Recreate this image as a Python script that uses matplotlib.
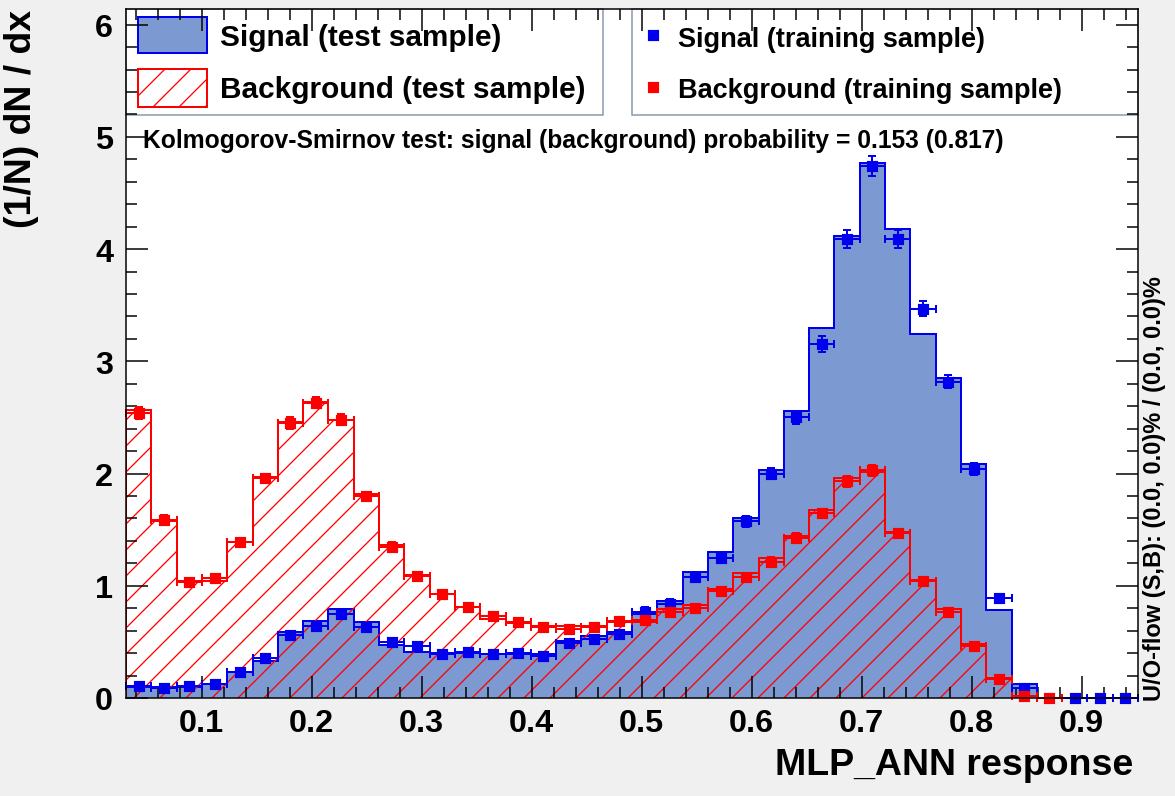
import matplotlib
matplotlib.use('Agg')
import matplotlib.pyplot as plt
import numpy as np
from matplotlib.patches import Rectangle
from matplotlib.lines import Line2D
from matplotlib.ticker import MultipleLocator

DPI = 156          # hatch spacing in matplotlib scales with dpi
W, H = 1175, 797


def pt(px):
    # pixel size -> points at this dpi
    return px * 72.0 / DPI


def fx(px):
    return px / W


def fy(py):
    return 1 - py / H


x_min, x_max = 0.0312, 0.9512
n_bins = 40

# signal, test sample (filled histogram)
sig_test = [0.095, 0.095, 0.10, 0.125, 0.23, 0.33, 0.585, 0.69, 0.79, 0.675,
            0.47, 0.41, 0.40, 0.40, 0.39, 0.39, 0.39, 0.51, 0.555, 0.585,
            0.75, 0.86, 1.12, 1.30, 1.60, 2.03, 2.555, 3.30, 4.12, 4.77,
            4.18, 3.24, 2.85, 2.085, 0.78, 0.125, 0.0, 0.0, 0.0, 0.0]
# signal, training sample (points)
sig_train = [0.11, 0.09, 0.11, 0.125, 0.235, 0.36, 0.56, 0.645, 0.75, 0.63,
             0.50, 0.46, 0.39, 0.41, 0.39, 0.40, 0.37, 0.49, 0.525, 0.57,
             0.77, 0.84, 1.08, 1.25, 1.575, 2.00, 2.50, 3.155, 4.09, 4.74,
             4.09, 3.47, 2.82, 2.04, 0.89, 0.086, np.nan, 0.0, 0.0, 0.0]
sig_train_err = [0.02, 0.02, 0.02, 0.02, 0.03, 0.03, 0.03, 0.03, 0.04, 0.03,
                 0.03, 0.03, 0.03, 0.03, 0.03, 0.03, 0.03, 0.03, 0.03, 0.03,
                 0.04, 0.04, 0.04, 0.04, 0.05, 0.05, 0.06, 0.07, 0.08, 0.09,
                 0.08, 0.07, 0.06, 0.05, 0.03, 0.01, 0.0, 0.0, 0.0, 0.0]

# background, test sample (hatched histogram)
bkg_test = [2.57, 1.58, 1.04, 1.04, 1.39, 1.97, 2.46, 2.64, 2.48, 1.82,
            1.36, 1.10, 0.93, 0.81, 0.70, 0.67, 0.64, 0.64, 0.64, 0.675,
            0.675, 0.79, 0.83, 0.97, 1.11, 1.245, 1.445, 1.675, 1.96, 2.01,
            1.48, 1.05, 0.79, 0.48, 0.18, 0.02, 0.0, 0.0, 0.0, 0.0]
# background, training sample (points)
bkg_train = [2.54, 1.59, 1.03, 1.07, 1.39, 1.96, 2.45, 2.63, 2.48, 1.80,
             1.35, 1.09, 0.93, 0.81, 0.73, 0.68, 0.63, 0.615, 0.63, 0.69,
             0.695, 0.77, 0.80, 0.95, 1.075, 1.215, 1.43, 1.645, 1.93, 2.03,
             1.47, 1.04, 0.765, 0.465, 0.165, 0.02, 0.0, np.nan, np.nan, np.nan]
bkg_train_err = [0.05, 0.04, 0.03, 0.03, 0.04, 0.04, 0.05, 0.05, 0.05, 0.04,
                 0.04, 0.03, 0.03, 0.03, 0.03, 0.03, 0.03, 0.03, 0.03, 0.03,
                 0.03, 0.03, 0.03, 0.03, 0.03, 0.04, 0.04, 0.04, 0.05, 0.05,
                 0.04, 0.03, 0.03, 0.03, 0.02, 0.01, 0.0, 0.0, 0.0, 0.0]

edges = np.linspace(x_min, x_max, n_bins + 1)
centers = 0.5 * (edges[:-1] + edges[1:])
half = 0.5 * (edges[1] - edges[0])

sig_fill = '#7d99d1'
sig_line = '#0000ee'
bkg_line = '#ff0000'
box_edge = '#8a98ad'

plt.rcParams['font.family'] = ['Liberation Sans', 'DejaVu Sans']
plt.rcParams['font.weight'] = 'bold'
plt.rcParams['hatch.linewidth'] = pt(1.3)

fig = plt.figure(figsize=(W / DPI, H / DPI), dpi=DPI, facecolor='#f0f0f0')
ax = fig.add_axes([fx(126), fy(699), (1138 - 126) / W, (699 - 10) / H])
ax.set_facecolor('white')

# test samples as histograms
ax.stairs(sig_test, edges, fill=True, facecolor=sig_fill, edgecolor='none', lw=0, zorder=1)
ax.stairs(sig_test, edges, color=sig_line, lw=pt(2), zorder=1.2)
ax.stairs(bkg_test, edges, fill=True, facecolor='none', edgecolor=bkg_line,
          hatch='//', lw=0, zorder=1.4)
ax.stairs(bkg_test, edges, color=bkg_line, lw=pt(2), zorder=1.6)

# training samples as points with error bars
ax.errorbar(centers, sig_train, xerr=half, yerr=sig_train_err, fmt='s', color=sig_line,
            ms=pt(9), elinewidth=pt(2), capsize=pt(4), capthick=pt(2), zorder=2, clip_on=False)
ax.errorbar(centers, bkg_train, xerr=half, yerr=bkg_train_err, fmt='s', color=bkg_line,
            ms=pt(9), elinewidth=pt(2), capsize=pt(4), capthick=pt(2), zorder=2.1, clip_on=False)

ax.set_xlim(x_min, x_max)
ax.set_ylim(0, 6.14)
ax.xaxis.set_major_locator(MultipleLocator(0.1))
ax.xaxis.set_minor_locator(MultipleLocator(0.02))
ax.yaxis.set_major_locator(MultipleLocator(1))
ax.yaxis.set_minor_locator(MultipleLocator(0.2))
ax.tick_params(which='both', direction='in', top=True, right=True, width=pt(1.5))
ax.tick_params(which='major', length=pt(22))
ax.tick_params(which='minor', length=pt(11))
ax.tick_params(axis='x', labelsize=pt(32.4), pad=pt(10))
ax.tick_params(axis='y', labelsize=pt(32.4), pad=pt(13))
for s in ax.spines.values():
    s.set_linewidth(pt(1.5))

# axis titles
fig.text(fx(1133), fy(775), 'MLP_ANN response', ha='right', va='baseline', fontsize=pt(37.5))
fig.text(fx(22), fy(10), '(1/N) dN / dx', rotation=90, ha='center', va='top', fontsize=pt(37.5))
fig.text(fx(1155), fy(701), 'U/O-flow (S,B): (0.0, 0.0)% / (0.0, 0.0)%', rotation=90,
         ha='center', va='bottom', fontsize=pt(23.6))

# legends
tf = fig.transFigure
ax.add_patch(Rectangle((fx(126), fy(116)), (603 - 126) / W, (116 - 10) / H, transform=tf,
                       facecolor='white', edgecolor=box_edge, lw=pt(1.5), zorder=0.5, clip_on=False))
ax.add_patch(Rectangle((fx(632), fy(116)), (1138 - 632) / W, (116 - 10) / H, transform=tf,
                       facecolor='white', edgecolor=box_edge, lw=pt(1.5), zorder=0.5, clip_on=False))
ax.add_patch(Rectangle((fx(138), fy(54)), 69 / W, 36 / H, transform=tf,
                       facecolor=sig_fill, edgecolor=sig_line, lw=pt(2), zorder=0.6, clip_on=False))
ax.add_patch(Rectangle((fx(138), fy(108)), 69 / W, 38 / H, transform=tf, hatch='//',
                       facecolor='white', edgecolor=bkg_line, lw=pt(2), zorder=0.6, clip_on=False))
ax.add_line(Line2D([fx(653)], [fy(36)], transform=tf, marker='s', ms=pt(9), color=sig_line,
                   ls='none', zorder=0.7, clip_on=False))
ax.add_line(Line2D([fx(653)], [fy(88)], transform=tf, marker='s', ms=pt(9), color=bkg_line,
                   ls='none', zorder=0.7, clip_on=False))

fig.text(fx(220), fy(46.5), 'Signal (test sample)', ha='left', va='baseline', fontsize=pt(29.7))
fig.text(fx(220), fy(98), 'Background (test sample)', ha='left', va='baseline', fontsize=pt(29.7))
fig.text(fx(678), fy(47), 'Signal (training sample)', ha='left', va='baseline', fontsize=pt(27.2))
fig.text(fx(678), fy(98), 'Background (training sample)', ha='left', va='baseline', fontsize=pt(27.2))

fig.text(fx(143), fy(148), 'Kolmogorov-Smirnov test: signal (background) probability = 0.153 (0.817)',
         ha='left', va='baseline', fontsize=pt(24.7))

fig.savefig('out.png', dpi=DPI, facecolor=fig.get_facecolor())
